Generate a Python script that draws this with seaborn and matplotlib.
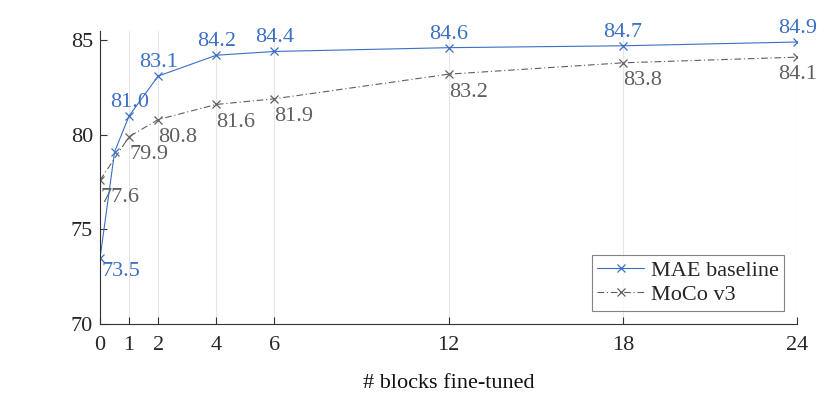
import pandas as pd
import matplotlib
matplotlib.use('Agg')
import matplotlib.pyplot as plt
import seaborn as sns

# data
mae_blocks = [0, 0.5, 1, 2, 4, 6, 12, 18, 24]
mae_acc = [73.5, 79.1, 81.0, 83.1, 84.2, 84.4, 84.6, 84.7, 84.9]
moco_blocks = [0, 1, 2, 4, 6, 12, 18, 24]
moco_acc = [77.6, 79.9, 80.8, 81.6, 81.9, 83.2, 83.8, 84.1]
xticks = [0, 1, 2, 4, 6, 12, 18, 24]
yticks = [70, 75, 80, 85]

blue = '#3a6fc4'
gray = '#5f5f5f'
fs = 16

df = pd.concat([
    pd.DataFrame({'blocks': mae_blocks, 'acc': mae_acc, 'model': 'MAE baseline'}),
    pd.DataFrame({'blocks': moco_blocks, 'acc': moco_acc, 'model': 'MoCo v3'}),
])

sns.set_style('ticks')
plt.rcParams['font.family'] = ['Liberation Serif', 'DejaVu Serif']

fig = plt.figure(figsize=(8.34, 3.98), dpi=100)
ax = fig.add_axes([0.12, 0.186, 0.836, 0.737])

sns.lineplot(data=df, x='blocks', y='acc', hue='model', style='model',
             palette={'MAE baseline': blue, 'MoCo v3': gray},
             dashes={'MAE baseline': '', 'MoCo v3': (6, 2.5, 1, 2.5)},
             markers={'MAE baseline': 'x', 'MoCo v3': 'x'},
             markersize=6, linewidth=0.8, ax=ax)

# seaborn paints marker edges white; give them the line colour
for ln in ax.lines:
    ln.set_markeredgecolor(ln.get_color())
    ln.set_markeredgewidth(0.9)

# value labels
for x, y in zip(mae_blocks, mae_acc):
    if x == 0.5:
        continue
    if x == 0:
        ax.annotate(f'{y:.1f}', (x, y), xytext=(1, -3), textcoords='offset points',
                    ha='left', va='top', color=blue, fontsize=fs)
    else:
        ax.annotate(f'{y:.1f}', (x, y), xytext=(0, 3), textcoords='offset points',
                    ha='center', va='bottom', color=blue, fontsize=fs)
for x, y in zip(moco_blocks, moco_acc):
    ha = 'center' if x == 24 else 'left'
    ax.annotate(f'{y:.1f}', (x, y), xytext=(0, -6), textcoords='offset points',
                ha=ha, va='top', color=gray, fontsize=fs)

ax.set_xlim(0, 24)
ax.set_ylim(70, 85.5)
ax.set_xticks(xticks)
ax.set_yticks(yticks)
ax.tick_params(direction='in', length=5, width=0.8, colors='#333333',
               labelsize=fs, labelcolor='#262626')
ax.tick_params(axis='x', pad=9)
ax.tick_params(axis='y', pad=5)
ax.xaxis.grid(True, color='#e6e6e6', linewidth=0.8)
ax.set_axisbelow(True)
sns.despine(ax=ax)
for s in ['left', 'bottom']:
    ax.spines[s].set_color('#333333')
    ax.spines[s].set_linewidth(0.8)

ax.set_xlabel('# blocks fine-tuned', fontsize=fs, color='#111111', labelpad=13)
ax.set_ylabel('')

leg = ax.legend(loc='lower right', fontsize=fs, frameon=True, fancybox=False,
                edgecolor='#666666', handlelength=2.1, borderpad=0.25,
                labelspacing=0.15, handletextpad=0.3, borderaxespad=0.6)
leg.get_frame().set_linewidth(0.8)
for h in leg.get_lines():
    h.set_markeredgecolor(h.get_color())

plt.savefig('out.png', dpi=100)
plt.close()
